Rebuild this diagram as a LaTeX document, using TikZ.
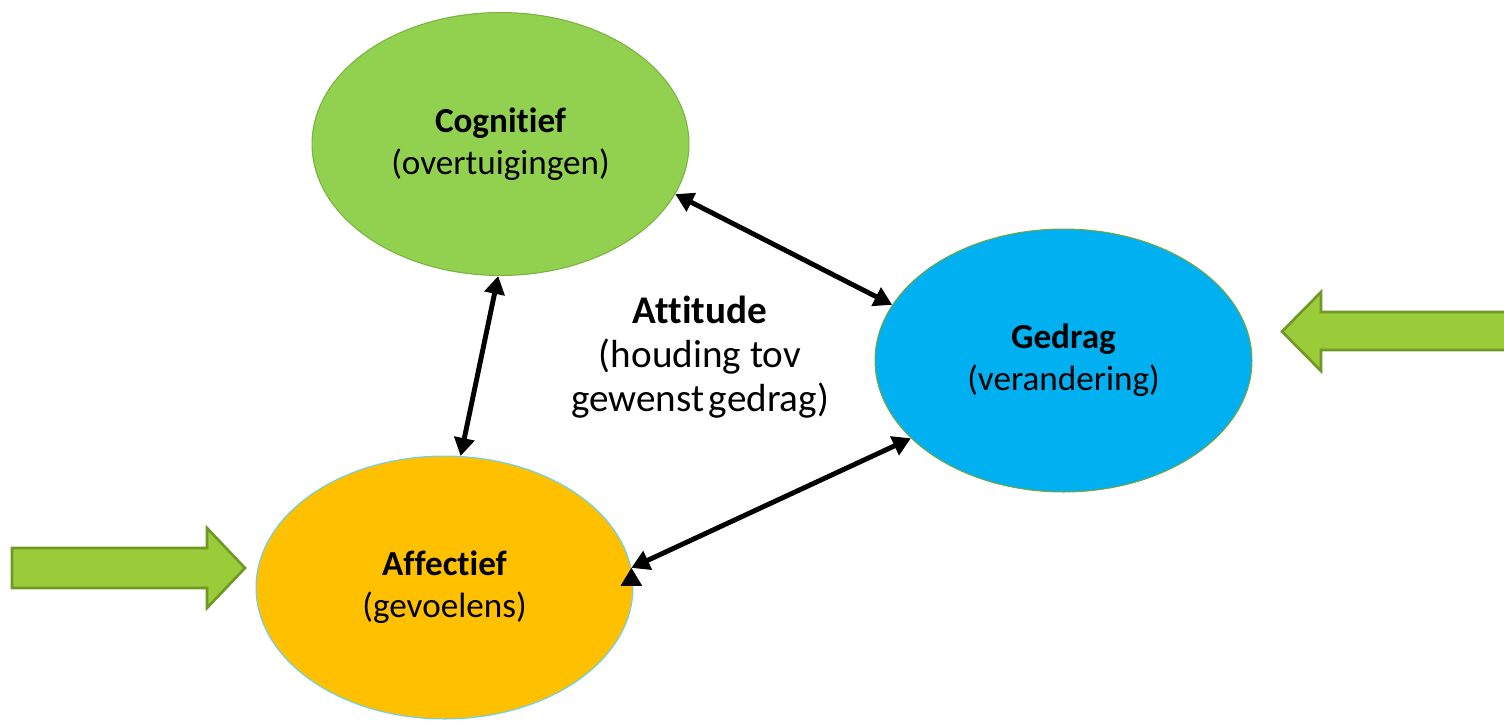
\documentclass[tikz,border=0pt]{standalone}
\usepackage{fontspec}
\setmainfont{Carlito}[Ligatures={NoCommon}]
\usetikzlibrary{shapes.geometric, arrows.meta}
\definecolor{cogGreen}{RGB}{146,208,80}
\definecolor{gedBlue}{RGB}{0,176,240}
\definecolor{affOrange}{RGB}{255,192,0}
\definecolor{arrowGreen}{RGB}{154,204,58}
\definecolor{arrowEdge}{RGB}{113,152,38}
\tikzset{
x=0.02cm, y=-0.02cm, % one unit is one pixel of the slide
component/.style={ellipse, minimum width=7.54cm, minimum height=5.26cm, inner sep=0pt, align=center, font=\fontsize{20}{24}\selectfont, line width=0.6pt}, % the three parts of the attitude
link/.style={<->, >={Triangle[length=0.36cm, width=0.4cm]}, line width=2.8pt}, % double headed connectors
influence/.style={fill=arrowGreen, draw=arrowEdge, line width=1.5pt, line join=miter}, % big green block arrows
}

\begin{document}
\begin{tikzpicture}
    \useasboundingbox (0,0) rectangle (1504,724);
    \node[component, fill=cogGreen, draw=cogGreen!85!black] (cog) at (500.5,144) {\textbf{Cognitief}\\(overtuigingen)};
    \node[component, fill=gedBlue, draw=cogGreen!80!black] (ged) at (1063.5,360.5) {\textbf{Gedrag}\\(verandering)};
    \node[component, fill=affOrange, draw=gedBlue!60] (aff) at (444.5,587.5) {\textbf{Affectief}\\(gevoelens)};
    \node[align=center, font=\fontsize{22.3}{25}\selectfont] (att) at (700,357) {\textbf{Attitude}\\(houding tov\\gewenst\hspace{0.12em}gedrag)};
    \draw[link]
        (cog.-16.7) edge (ged.162.9)
        (cog.-91.1) edge (aff.83.3)
        (aff.6) edge (ged.-153.8)
        ;
    % block arrows from outside
    \draw[influence] (12,548) -- (207,548) -- (207,528) -- (245,568) -- (207,608) -- (207,588) -- (12,588) -- cycle;
    \draw[influence] (1512,312) -- (1321,312) -- (1321,292) -- (1282,331.5) -- (1321,371) -- (1321,350) -- (1512,350) -- cycle;
\end{tikzpicture}
\end{document}
